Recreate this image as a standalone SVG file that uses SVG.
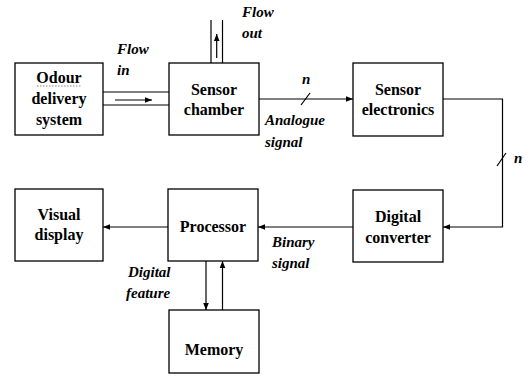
<svg xmlns="http://www.w3.org/2000/svg" width="532" height="383" viewBox="0 0 532 383">
<defs>
<marker id="ah" viewBox="0 0 10 10" refX="10" refY="5" markerWidth="7" markerHeight="7" markerUnits="userSpaceOnUse" orient="auto">
<path d="M0,1 L10,5 L0,9 Z" fill="#000"/>
</marker>
</defs>
<style>
.box{fill:#fff;stroke:#000;stroke-width:1.3}
.t{font-weight:bold;font-size:16px;text-anchor:middle;fill:#000}
.l{font-weight:bold;font-style:italic;font-size:15px;fill:#000}
.c{fill:none;stroke:#000;stroke-width:1.2}
.a{marker-end:url(#ah)}
</style>
<rect width="532" height="383" fill="#fff"/>
<g id="connectors">
<line class="c" x1="103" y1="92" x2="169" y2="92"/>
<line class="c" x1="103" y1="105" x2="169" y2="105"/>
<line class="c a" x1="115" y1="100" x2="152" y2="100"/>
<line class="c" x1="211" y1="20" x2="211" y2="63"/>
<line class="c" x1="222.5" y1="20" x2="222.5" y2="63"/>
<line class="c a" x1="216.7" y1="58" x2="216.7" y2="34"/>
<line class="c a" x1="259" y1="99" x2="353" y2="99"/>
<line class="c" x1="301" y1="105" x2="310" y2="93"/>
<polyline class="c a" points="443,99 502.5,99 502.5,227 443,227"/>
<line class="c" x1="497" y1="166" x2="506" y2="153"/>
<line class="c a" x1="353" y1="227" x2="258" y2="227"/>
<line class="c a" x1="168" y1="227" x2="103" y2="227"/>
<line class="c a" x1="206" y1="261" x2="206" y2="310"/>
<line class="c a" x1="222.5" y1="310" x2="222.5" y2="261"/>
</g>
<g font-family="Liberation Serif, Times New Roman, serif">
<g id="odour">
<rect class="box" x="15" y="63" width="88" height="72"/>
<text class="t" x="59" y="83">Odour</text>
<line x1="37" y1="86" x2="81" y2="86" stroke="#888" stroke-width="1" stroke-dasharray="1.5,1.5"/>
<text class="t" x="59" y="104">delivery</text>
<text class="t" x="59" y="125">system</text>
</g>
<g id="chamber">
<rect class="box" x="169" y="63" width="90" height="72"/>
<text class="t" x="214" y="95">Sensor</text>
<text class="t" x="214" y="115">chamber</text>
</g>
<g id="electronics">
<rect class="box" x="353" y="63" width="90" height="73"/>
<text class="t" x="398" y="95">Sensor</text>
<text class="t" x="398" y="115">electronics</text>
</g>
<g id="converter">
<rect class="box" x="353" y="190" width="90" height="72"/>
<text class="t" x="398" y="222">Digital</text>
<text class="t" x="398" y="243">converter</text>
</g>
<g id="processor">
<rect class="box" x="168" y="189" width="90" height="72"/>
<text class="t" x="213" y="232">Processor</text>
</g>
<g id="display">
<rect class="box" x="15" y="189" width="88" height="72"/>
<text class="t" x="59" y="220">Visual</text>
<text class="t" x="59" y="240">display</text>
</g>
<g id="memory">
<rect class="box" x="169" y="310" width="90" height="63"/>
<text class="t" x="214" y="355">Memory</text>
</g>
<g id="labels">
<text class="l" x="117" y="54">Flow</text>
<text class="l" x="117" y="75">in</text>
<text class="l" x="242" y="17">Flow</text>
<text class="l" x="242" y="38">out</text>
<text class="l" x="302" y="84">n</text>
<text class="l" x="265" y="125">Analogue</text>
<text class="l" x="265" y="147">signal</text>
<text class="l" x="514" y="163">n</text>
<text class="l" x="272" y="247">Binary</text>
<text class="l" x="272" y="268">signal</text>
<text class="l" x="128" y="277">Digital</text>
<text class="l" x="126" y="298">feature</text>
</g>
</g>
</svg>
